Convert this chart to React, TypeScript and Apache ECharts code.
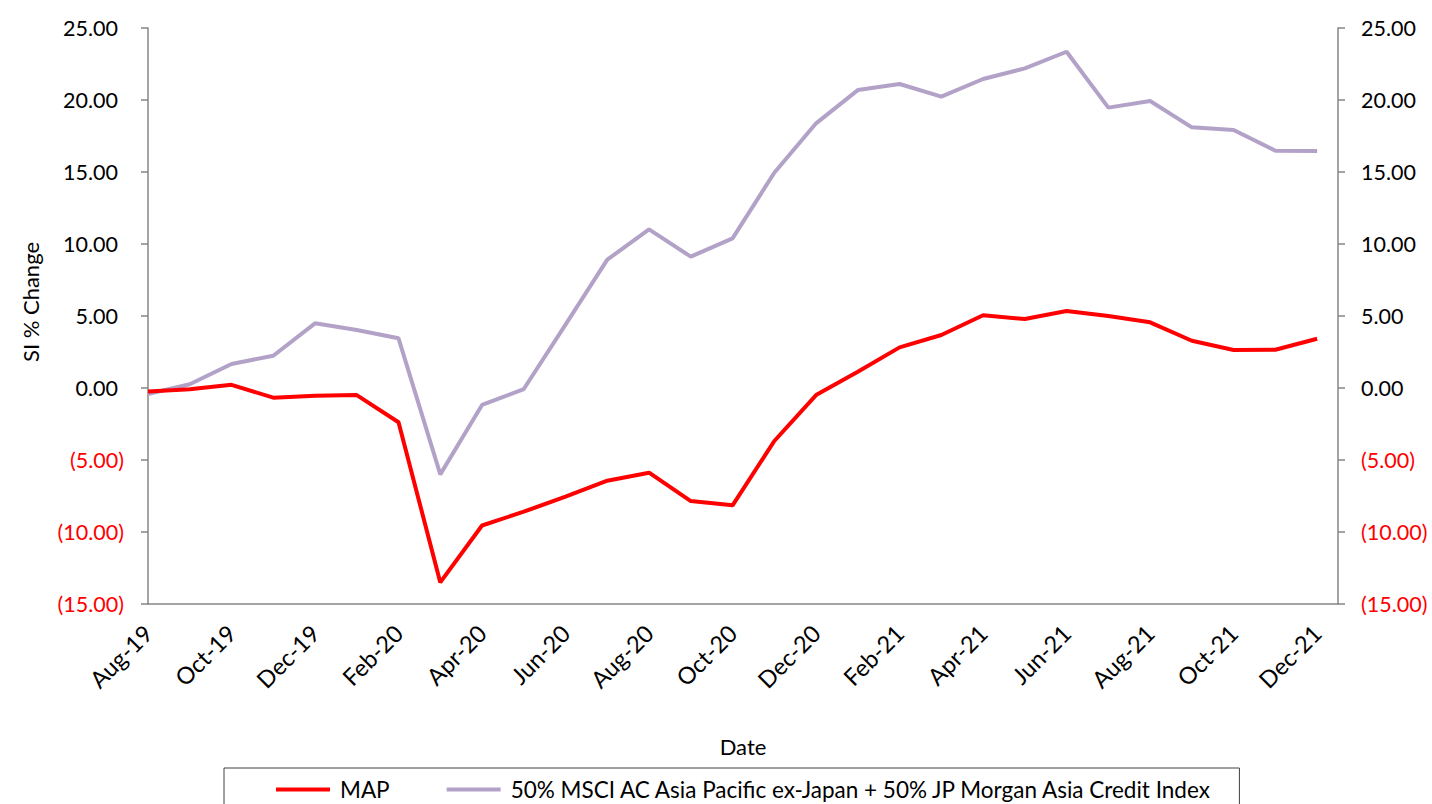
import React, { useEffect, useRef } from "react";
import * as echarts from "echarts";

const months = [
  "Aug-19", "Sep-19", "Oct-19", "Nov-19", "Dec-19", "Jan-20", "Feb-20", "Mar-20",
  "Apr-20", "May-20", "Jun-20", "Jul-20", "Aug-20", "Sep-20", "Oct-20", "Nov-20",
  "Dec-20", "Jan-21", "Feb-21", "Mar-21", "Apr-21", "May-21", "Jun-21", "Jul-21",
  "Aug-21", "Sep-21", "Oct-21", "Nov-21", "Dec-21",
];

const mapValues = [
  -0.25, -0.08, 0.22, -0.67, -0.53, -0.49, -2.38, -13.5,
  -9.55, -8.59, -7.55, -6.44, -5.88, -7.85, -8.15, -3.68,
  -0.49, 1.13, 2.82, 3.68, 5.05, 4.79, 5.35, 5.0,
  4.56, 3.28, 2.64, 2.66, 3.42,
];

const benchValues = [
  -0.42, 0.26, 1.67, 2.24, 4.49, 4.03, 3.45, -6.0,
  -1.18, -0.07, 4.4, 8.91, 11.02, 9.12, 10.39, 14.95,
  18.38, 20.69, 21.11, 20.23, 21.46, 22.2, 23.35, 19.47,
  19.93, 18.1, 17.92, 16.48, 16.46,
];

const seriesNames = [
  "MAP",
  "50% MSCI AC Asia Pacific ex-Japan + 50% JP Morgan Asia Credit Index",
];

const FONT = "Lato";

function fmtY(v: number) {
  const s = Math.abs(v).toFixed(2);
  return v < 0 ? `{neg|(${s})}` : `{pos|${s}}`;
}

export default function App() {
  const ref = useRef<HTMLDivElement>(null);
  useEffect(() => {
    if (!ref.current) return;
    const chart = echarts.init(ref.current, null, { renderer: "svg" });
    const yAxisCommon = {
      type: "value",
      min: -15,
      max: 25,
      interval: 5,
      splitLine: { show: false },
      axisLine: { show: true, lineStyle: { color: "#868686", width: 1.5 } },
      axisTick: { show: true, inside: false, length: 7, lineStyle: { color: "#868686", width: 1.5 } },
    };
    chart.setOption({
      animation: false,
      backgroundColor: "#fff",
      grid: { left: 148, right: 94, top: 28, bottom: 200, containLabel: false },
      xAxis: {
        type: "value",
        min: 0,
        max: 28.5,
        interval: 2,
        splitLine: { show: false },
        axisTick: { show: false },
        axisLine: { show: true, onZero: false, lineStyle: { color: "#868686", width: 1.5 } },
        axisLabel: {
          rotate: 45,
          margin: 25,
          fontFamily: FONT,
          fontSize: 23.5,
          color: "#000",
          showMaxLabel: false,
          formatter: (v: number) => (Number.isInteger(v) && months[v] ? months[v] : ""),
        },
        name: "Date",
        nameLocation: "middle",
        nameGap: 131,
        nameTextStyle: { fontFamily: FONT, fontSize: 22, color: "#000" },
      },
      yAxis: [
        {
          ...yAxisCommon,
          position: "left",
          axisLabel: {
            margin: 24,
            fontFamily: FONT,
            fontSize: 21.5,
            formatter: fmtY,
            rich: {
              pos: { fontFamily: FONT, fontSize: 21.5, color: "#000", padding: [0, 6, 0, 0] },
              neg: { fontFamily: FONT, fontSize: 21.5, color: "#ff0000" },
            },
          },
        },
        {
          ...yAxisCommon,
          position: "right",
          axisLabel: {
            margin: 23,
            fontFamily: FONT,
            fontSize: 21.5,
            formatter: fmtY,
            rich: {
              pos: { fontFamily: FONT, fontSize: 21.5, color: "#000" },
              neg: { fontFamily: FONT, fontSize: 21.5, color: "#ff0000" },
            },
          },
        },
      ],
      legend: {
        left: 224,
        top: 768,
        data: seriesNames,
        icon: "rect",
        itemWidth: 54,
        itemHeight: 4,
        itemGap: 57,
        borderColor: "#404040",
        borderWidth: 1,
        borderRadius: 0,
        padding: [10, 26, 30, 52],
        textStyle: { fontFamily: FONT, fontSize: 22.5, color: "#000", padding: [0, 0, 0, 5] },
      },
      graphic: [
        {
          type: "text",
          x: 30,
          y: 302,
          rotation: Math.PI / 2,
          style: {
            text: "SI % Change",
            fontFamily: FONT,
            fontSize: 22,
            fill: "#000",
            textAlign: "center",
            textVerticalAlign: "middle",
          },
        },
      ],
      series: [
        {
          name: seriesNames[0],
          type: "line",
          yAxisIndex: 0,
          data: mapValues.map((v, i) => [i, v]),
          showSymbol: false,
          symbol: "none",
          lineStyle: { color: "#ff0000", width: 4 },
          itemStyle: { color: "#ff0000" },
          z: 3,
        },
        {
          name: seriesNames[1],
          type: "line",
          yAxisIndex: 0,
          data: benchValues.map((v, i) => [i, v]),
          showSymbol: false,
          symbol: "none",
          lineStyle: { color: "#b3a2c7", width: 4 },
          itemStyle: { color: "#b3a2c7" },
          z: 2,
        },
      ],
    });
    return () => chart.dispose();
  }, []);
  return (
    <div
      ref={ref}
      style={{ position: "absolute", left: 0, top: 0, width: 1432, height: 804 }}
    />
  );
}
